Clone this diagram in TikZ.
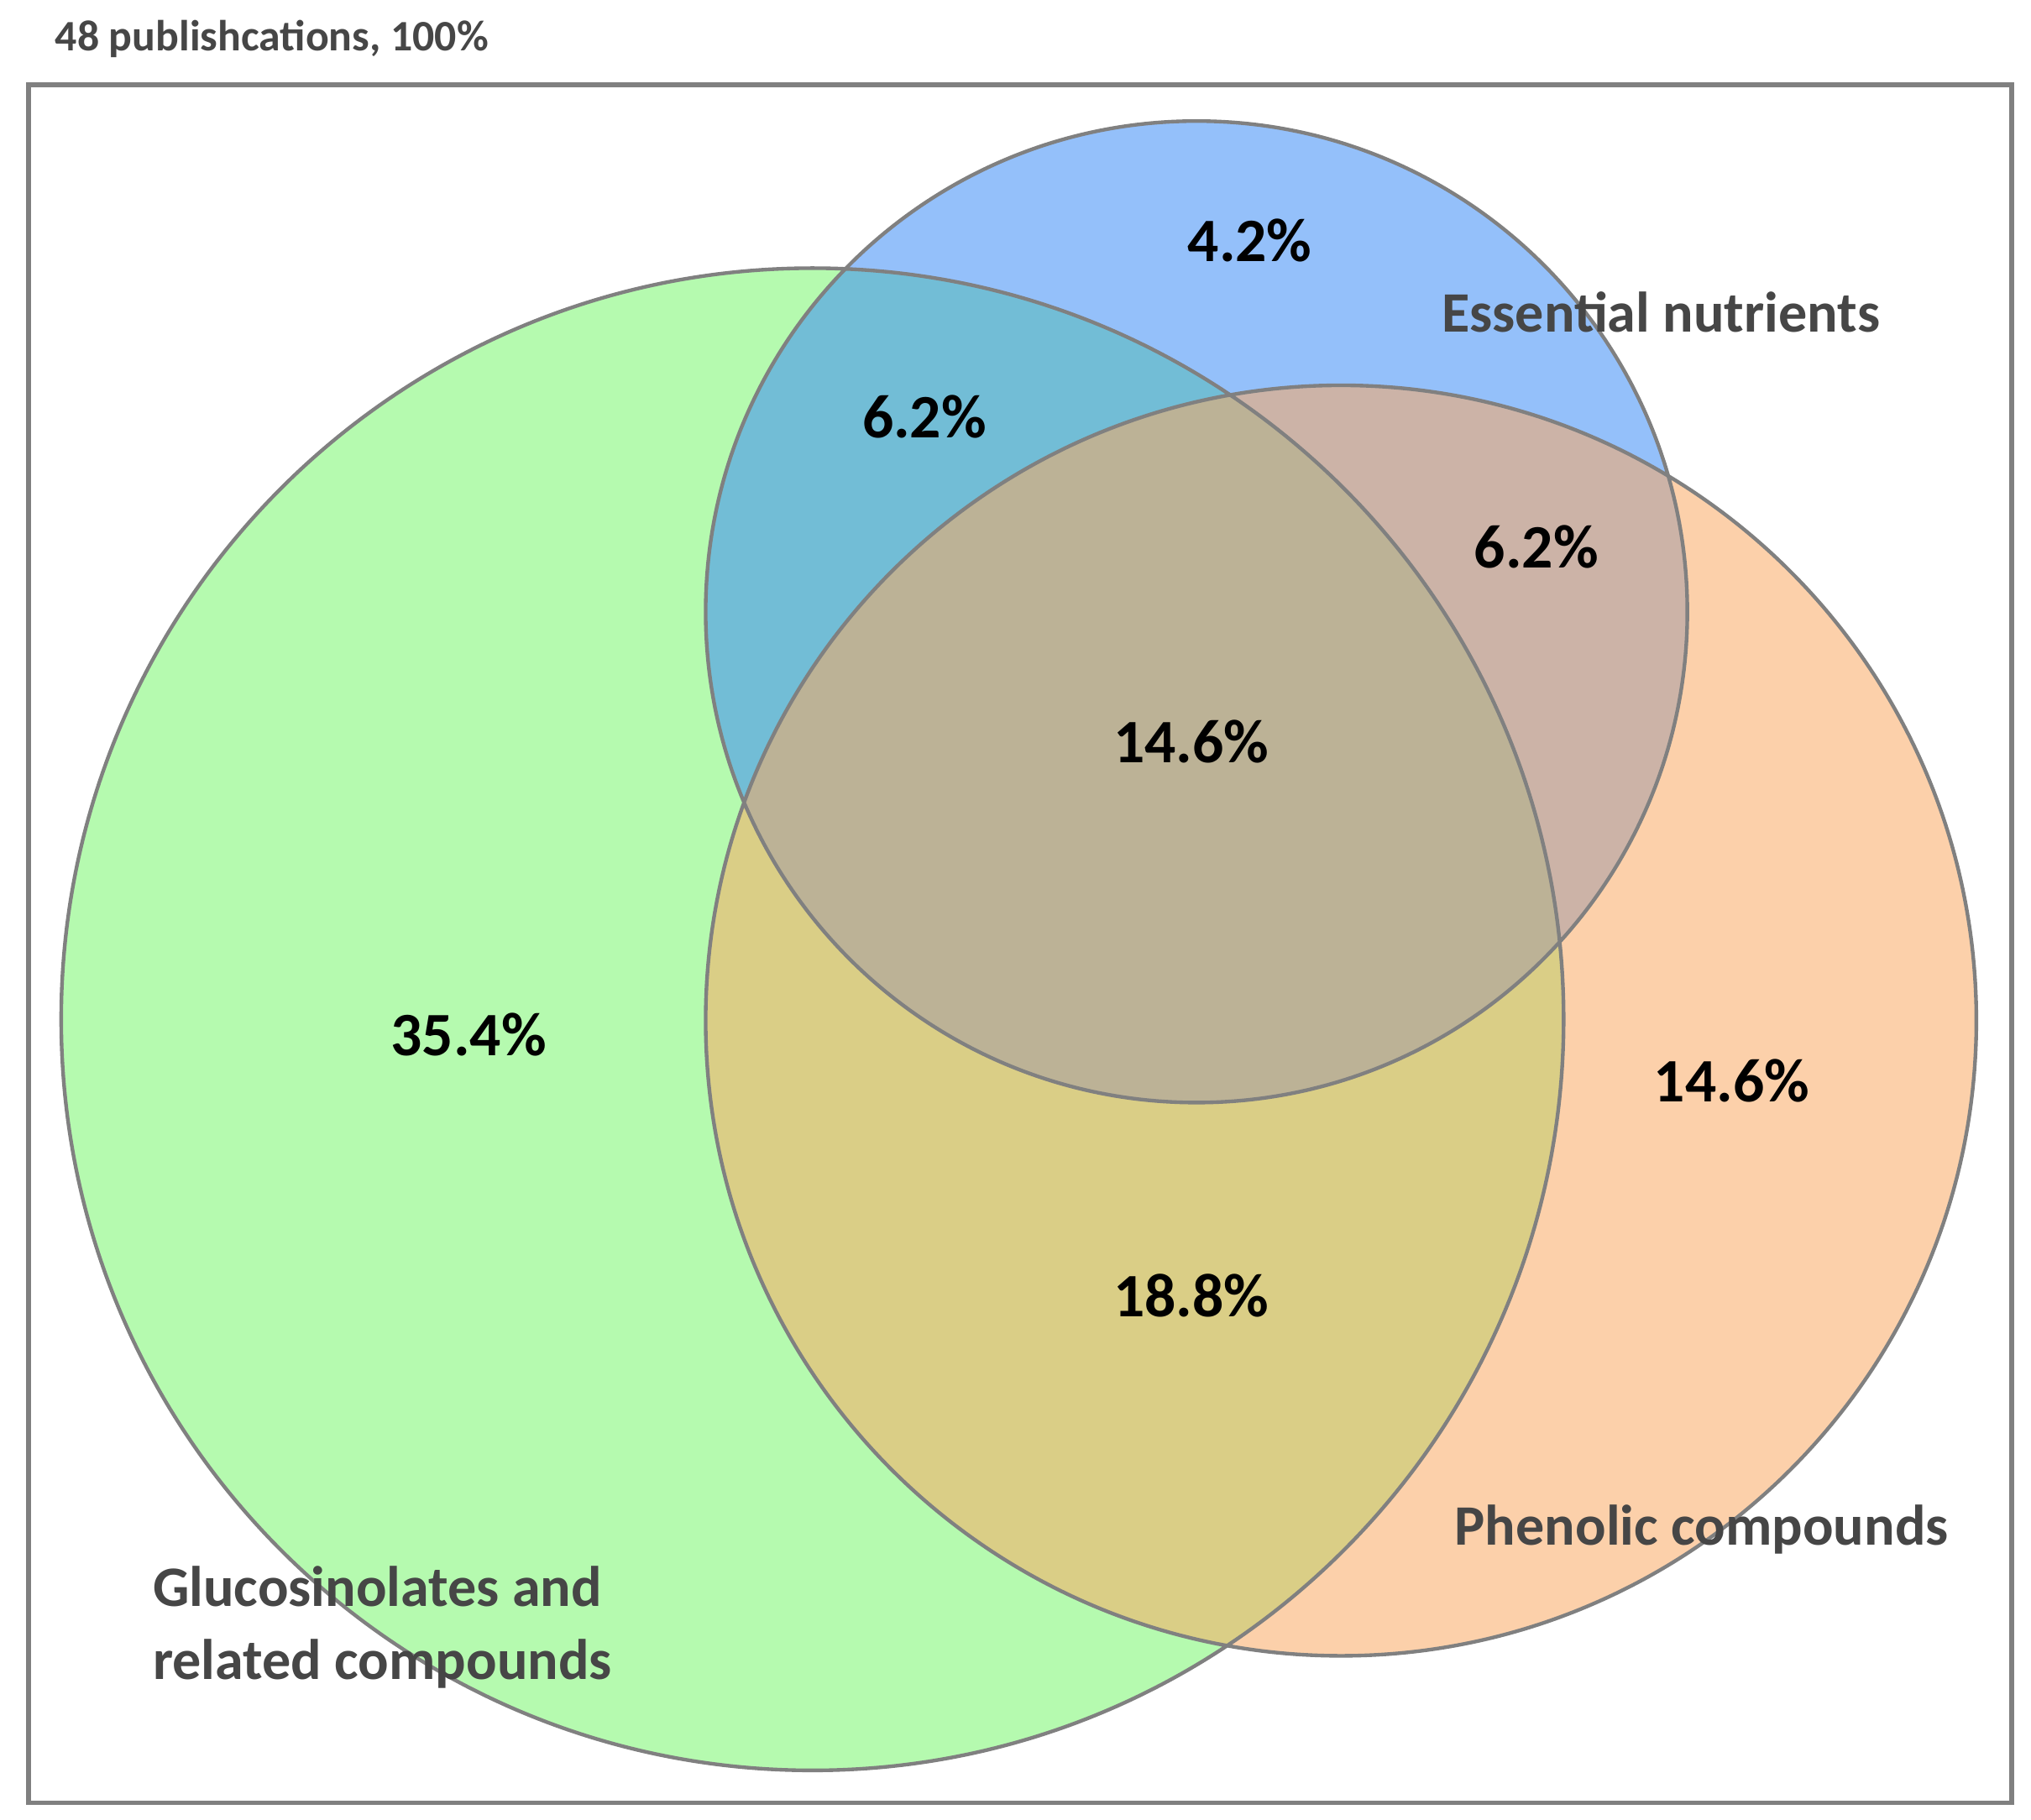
\documentclass[tikz,border=0pt]{standalone}
\usepackage{fontspec}
\setmainfont{Carlito}
\usetikzlibrary{positioning}
\definecolor{glsgreen}{RGB}{120,245,110}
\definecolor{nutblue}{RGB}{60,140,245}
\definecolor{phenorange}{RGB}{250,170,100}
\definecolor{labgray}{RGB}{70,70,70}
\tikzset{
  set/.style={fill opacity=0.55},
  pct/.style={font=\fontsize{13.5}{16}\selectfont\bfseries, text=black},
  setlabel/.style={font=\fontsize{12.5}{16}\selectfont\bfseries, text=labgray, align=left}
}
\begin{document}
\begin{tikzpicture}
  \useasboundingbox (0,0) rectangle (15.6,-13.98);
  \draw[black!50, line width=1pt] (0.22,-0.65) rectangle (15.45,-13.85);
  \node[anchor=west, font=\fontsize{9.5}{11}\selectfont\bfseries, text=labgray] (total) at (0.3,-0.3) {48 publishcations, 100\%};

  % sets
  \fill[set, fill=glsgreen] (6.24,-7.83) circle (5.77);
  \fill[set, fill=nutblue] (9.19,-4.7) circle (3.77);
  \fill[set, fill=phenorange] (10.3,-7.84) circle (4.88);
  \draw[black!50, line width=0.8pt] (6.24,-7.83) circle (5.77) (10.3,-7.84) circle (4.88) (9.19,-4.7) circle (3.77);

  % region shares
  \node[pct] (only-n) at (9.6,-1.85) {4.2\%};
  \node[pct] (gn) at (7.1,-3.2) {6.2\%};
  \node[pct] (np) at (11.8,-4.2) {6.2\%};
  \node[pct] (gnp) at (9.15,-5.7) {14.6\%};
  \node[pct] (only-g) at (3.6,-7.95) {35.4\%};
  \node[pct] (only-p) at (13.3,-8.3) {14.6\%};
  \node[pct] (gp) at (9.15,-9.95) {18.8\%};

  % set names
  \node[setlabel, anchor=west] (nut) at (10.95,-2.4) {Essential nutrients};
  \node[setlabel, anchor=west] (phen) at (11.05,-11.75) {Phenolic compounds};
  \node[setlabel, anchor=west] (gls) at (1.05,-12.5) {Glucosinolates and\\related compounds};
\end{tikzpicture}
\end{document}
